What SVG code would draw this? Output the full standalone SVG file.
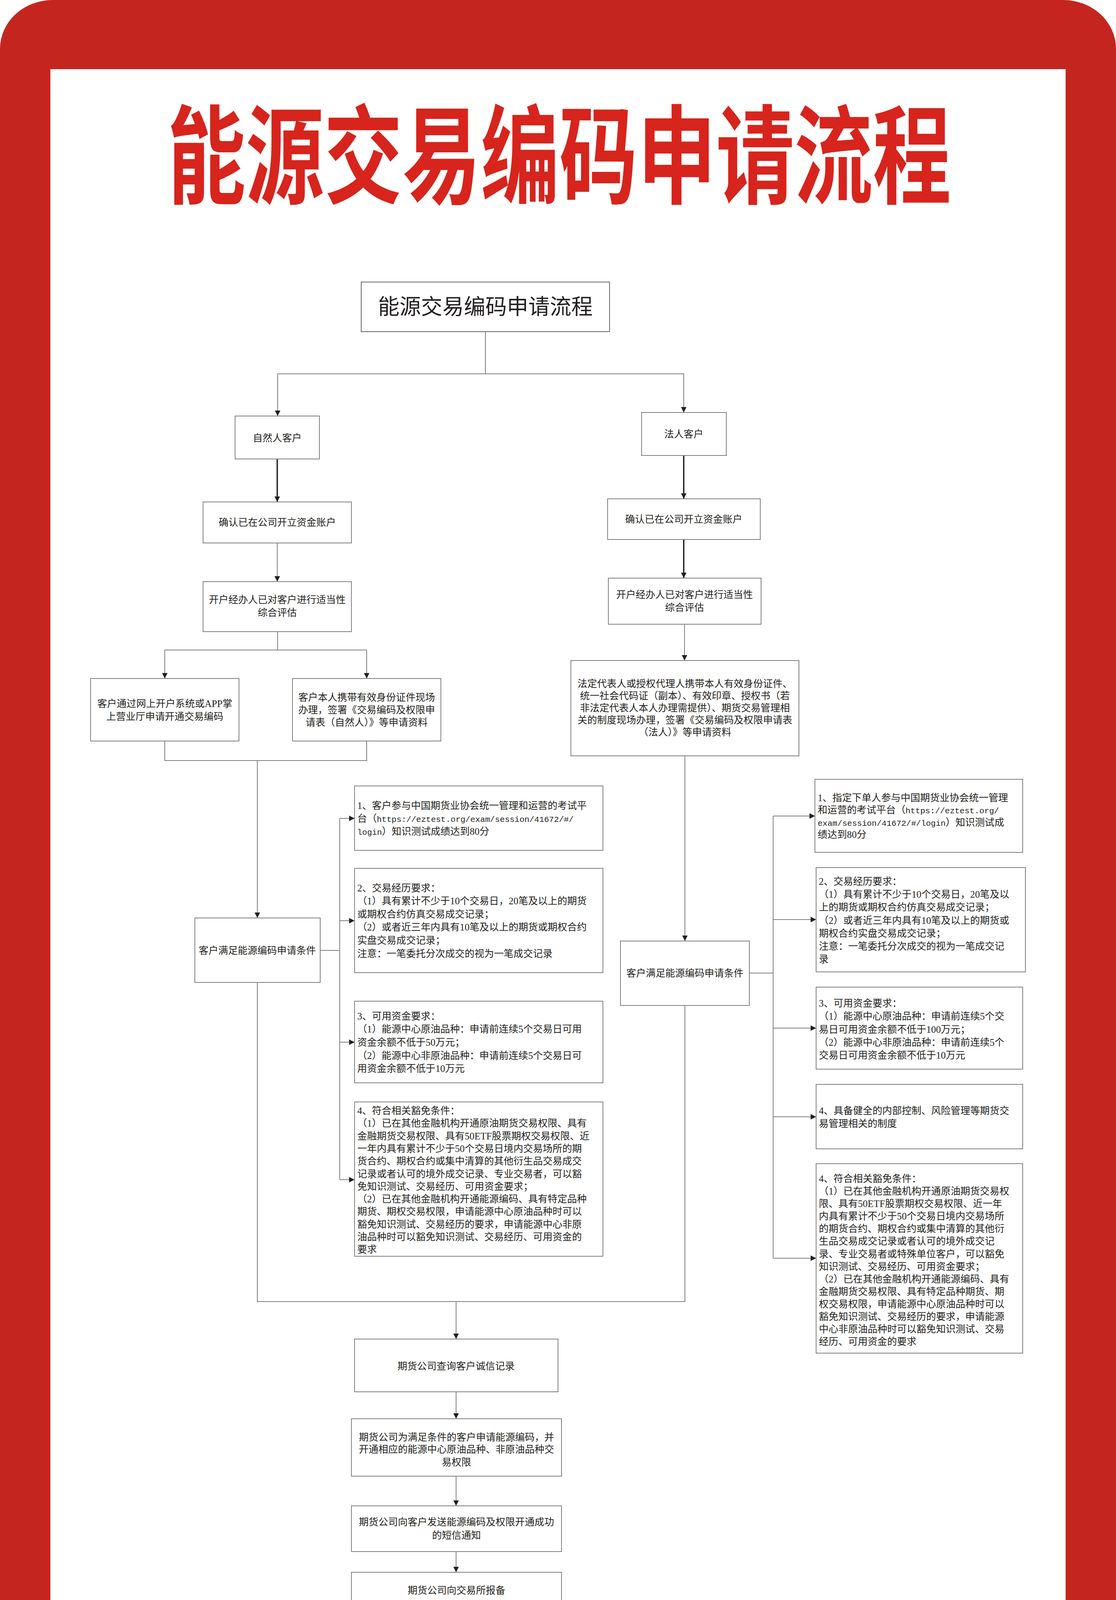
<svg xmlns="http://www.w3.org/2000/svg" width="2858" height="4370" viewBox="0 0 2858 4370">
<style>
.box{fill:#fff;stroke:#808080;stroke-width:2}
.t{font-family:"Liberation Serif","Noto Sans CJK SC",serif;font-size:25px;fill:#231f20}
.c{text-anchor:middle}
.u{font-family:"Liberation Mono",monospace;font-size:21px}
.ln{fill:none;stroke:#808080;stroke-width:2}
.lk{fill:none;stroke:#231f20;stroke-width:3.5}
</style>
<defs>
<marker id="ah" markerWidth="14" markerHeight="14" refX="14" refY="7" orient="auto" markerUnits="userSpaceOnUse"><path d="M0,0 L14,7 L0,14 z" fill="#231f20"/></marker>
</defs>
<rect x="0" y="0" width="2858" height="4370" fill="#fff"/>
<rect x="0" y="0" width="2858" height="4370" rx="135" ry="125" fill="#c4261f"/>
<rect x="129" y="177" width="2600" height="4014" fill="#fff"/>
<text transform="translate(1432,500) scale(0.73,1)" text-anchor="middle" style="font-family:'Noto Sans CJK SC',sans-serif;font-size:275px;font-weight:700;fill:#d7241c">能源交易编码申请流程</text>

<g id="connectors">
<path class="ln" d="M1243,849 V957 H711 V1065" marker-end="url(#ah)"/>
<path class="ln" d="M1243,957 H1751 V1056" marker-end="url(#ah)"/>
<path class="lk" d="M710,1175 V1285" marker-end="url(#ah)"/>
<path class="lk" d="M1751,1166 V1277" marker-end="url(#ah)"/>
<path class="lk" d="M1751,1381 V1480" marker-end="url(#ah)"/>
<path class="ln" d="M710,1390 V1489" marker-end="url(#ah)"/>
<path class="ln" d="M1753,1598 V1691" marker-end="url(#ah)"/>
<path class="ln" d="M711,1617 V1664 H422 V1737" marker-end="url(#ah)"/>
<path class="ln" d="M711,1664 H939 V1737" marker-end="url(#ah)"/>
<path class="ln" d="M422,1897 V1947 H939 V1897"/>
<path class="ln" d="M659,1947 V2350" marker-end="url(#ah)"/>
<path class="ln" d="M820,2433 H870"/>
<path class="ln" d="M870,2095 V3020"/>
<path class="ln" d="M870,2095 H908" marker-end="url(#ah)"/>
<path class="ln" d="M870,2357 H908" marker-end="url(#ah)"/>
<path class="ln" d="M870,2668 H908" marker-end="url(#ah)"/>
<path class="ln" d="M870,3020 H908" marker-end="url(#ah)"/>
<path class="ln" d="M1754,1935 V2409" marker-end="url(#ah)"/>
<path class="ln" d="M1919,2491 H1980"/>
<path class="ln" d="M1980,2089 V3221"/>
<path class="ln" d="M1980,2089 H2087" marker-end="url(#ah)"/>
<path class="ln" d="M1980,2354 H2090" marker-end="url(#ah)"/>
<path class="ln" d="M1980,2632 H2090" marker-end="url(#ah)"/>
<path class="ln" d="M1980,2859 H2090" marker-end="url(#ah)"/>
<path class="ln" d="M1980,3221 H2090" marker-end="url(#ah)"/>
<path class="ln" d="M659,2515 V3332 H1754 V2574"/>
<path class="ln" d="M1168,3332 V3428" marker-end="url(#ah)"/>
<path class="ln" d="M1168,3563 V3632" marker-end="url(#ah)"/>
<path class="ln" d="M1168,3779 V3855" marker-end="url(#ah)"/>
<path class="ln" d="M1168,3972 V4025" marker-end="url(#ah)"/>
</g>

<g id="title-box">
<rect class="box" x="925" y="722" width="636" height="127" style="stroke:#666"/>
<text class="t c" x="1243" y="804" style="font-size:55px">能源交易编码申请流程</text>
</g>
<g id="natural">
<rect class="box" x="602" y="1065" width="216" height="110"/>
<text class="t c" x="710" y="1130">自然人客户</text>
</g>
<g id="legal">
<rect class="box" x="1643" y="1056" width="217" height="110"/>
<text class="t c" x="1751" y="1120">法人客户</text>
</g>
<g id="confirm-left">
<rect class="box" x="520" y="1285" width="380" height="105"/>
<text class="t c" x="710" y="1346">确认已在公司开立资金账户</text>
</g>
<g id="confirm-right">
<rect class="box" x="1556" y="1277" width="391" height="104"/>
<text class="t c" x="1751" y="1338">确认已在公司开立资金账户</text>
</g>
<g id="assess-left">
<rect class="box" x="520" y="1489" width="380" height="128"/>
<text class="t c" x="710" y="1544">开户经办人已对客户进行适当性</text>
<text class="t c" x="710" y="1577">综合评估</text>
</g>
<g id="assess-right">
<rect class="box" x="1558" y="1480" width="391" height="118"/>
<text class="t c" x="1753" y="1531">开户经办人已对客户进行适当性</text>
<text class="t c" x="1753" y="1564">综合评估</text>
</g>
<g id="legal-docs">
<rect class="box" x="1462" y="1691" width="584" height="244"/>
<text class="t c" x="1754" y="1759">法定代表人或授权代理人携带本人有效身份证件、</text>
<text class="t c" x="1754" y="1790">统一社会代码证（副本）、有效印章、授权书（若</text>
<text class="t c" x="1754" y="1821">非法定代表人本人办理需提供）、期货交易管理相</text>
<text class="t c" x="1754" y="1852">关的制度现场办理，签署《交易编码及权限申请表</text>
<text class="t c" x="1754" y="1883">（法人）》等申请资料</text>
</g>
<g id="online">
<rect class="box" x="232" y="1737" width="380" height="160"/>
<text class="t c" x="422" y="1810">客户通过网上开户系统或APP掌</text>
<text class="t c" x="422" y="1843">上营业厅申请开通交易编码</text>
</g>
<g id="onsite">
<rect class="box" x="749" y="1737" width="380" height="160"/>
<text class="t c" x="939" y="1794">客户本人携带有效身份证件现场</text>
<text class="t c" x="939" y="1826">办理，签署《交易编码及权限申</text>
<text class="t c" x="939" y="1858">请表（自然人）》等申请资料</text>
</g>
<g id="meet-left">
<rect class="box" x="499" y="2350" width="321" height="165"/>
<text class="t c" x="659" y="2442">客户满足能源编码申请条件</text>
</g>
<g id="meet-right">
<rect class="box" x="1589" y="2409" width="330" height="165"/>
<text class="t c" x="1754" y="2500">客户满足能源编码申请条件</text>
</g>

<g id="left-c1">
<rect class="box" x="908" y="2012" width="636" height="165"/>
<text class="t" x="915" y="2071">1、客户参与中国期货业协会统一管理和运营的考试平</text>
<text class="t" x="915" y="2104">台（<tspan class="u">https://eztest.org/exam/session/41672/#/</tspan></text>
<text class="t" x="915" y="2137"><tspan class="u">login</tspan>）知识测试成绩达到80分</text>
</g>
<g id="left-c2">
<rect class="box" x="908" y="2223" width="636" height="267"/>
<text class="t" x="915" y="2282">2、交易经历要求：</text>
<text class="t" x="915" y="2315">（1）具有累计不少于10个交易日，20笔及以上的期货</text>
<text class="t" x="915" y="2349">或期权合约仿真交易成交记录；</text>
<text class="t" x="915" y="2382">（2）或者近三年内具有10笔及以上的期货或期权合约</text>
<text class="t" x="915" y="2416">实盘交易成交记录；</text>
<text class="t" x="915" y="2450">注意：一笔委托分次成交的视为一笔成交记录</text>
</g>
<g id="left-c3">
<rect class="box" x="908" y="2563" width="636" height="209"/>
<text class="t" x="915" y="2610">3、可用资金要求：</text>
<text class="t" x="915" y="2643">（1）能源中心原油品种：申请前连续5个交易日可用</text>
<text class="t" x="915" y="2677">资金余额不低于50万元；</text>
<text class="t" x="915" y="2711">（2）能源中心非原油品种：申请前连续5个交易日可</text>
<text class="t" x="915" y="2744">用资金余额不低于10万元</text>
</g>
<g id="left-c4">
<rect class="box" x="908" y="2821" width="636" height="395"/>
<text class="t" x="915" y="2852">4、符合相关豁免条件：</text>
<text class="t" x="915" y="2884">（1）已在其他金融机构开通原油期货交易权限、具有</text>
<text class="t" x="915" y="2917">金融期货交易权限、具有50ETF股票期权交易权限、近</text>
<text class="t" x="915" y="2949">一年内具有累计不少于50个交易日境内交易场所的期</text>
<text class="t" x="915" y="2981">货合约、期权合约或集中清算的其他衍生品交易成交</text>
<text class="t" x="915" y="3014">记录或者认可的境外成交记录、专业交易者，可以豁</text>
<text class="t" x="915" y="3046">免知识测试、交易经历、可用资金要求；</text>
<text class="t" x="915" y="3078">（2）已在其他金融机构开通能源编码、具有特定品种</text>
<text class="t" x="915" y="3110">期货、期权交易权限，申请能源中心原油品种时可以</text>
<text class="t" x="915" y="3143">豁免知识测试、交易经历的要求，申请能源中心非原</text>
<text class="t" x="915" y="3175">油品种时可以豁免知识测试、交易经历、可用资金的</text>
<text class="t" x="915" y="3207">要求</text>
</g>

<g id="right-c1">
<rect class="box" x="2087" y="1995" width="532" height="187"/>
<text class="t" x="2094" y="2051">1、指定下单人参与中国期货业协会统一管理</text>
<text class="t" x="2094" y="2082">和运营的考试平台（<tspan class="u">https://eztest.org/</tspan></text>
<text class="t" x="2094" y="2114"><tspan class="u">exam/session/41672/#/login</tspan>）知识测试成</text>
<text class="t" x="2094" y="2145">绩达到80分</text>
</g>
<g id="right-c2">
<rect class="box" x="2090" y="2221" width="536" height="267"/>
<text class="t" x="2097" y="2265">2、交易经历要求：</text>
<text class="t" x="2097" y="2298">（1）具有累计不少于10个交易日，20笔及以</text>
<text class="t" x="2097" y="2331">上的期货或期权合约仿真交易成交记录；</text>
<text class="t" x="2097" y="2365">（2）或者近三年内具有10笔及以上的期货或</text>
<text class="t" x="2097" y="2398">期权合约实盘交易成交记录；</text>
<text class="t" x="2097" y="2431">注意：一笔委托分次成交的视为一笔成交记</text>
<text class="t" x="2097" y="2464">录</text>
</g>
<g id="right-c3">
<rect class="box" x="2090" y="2527" width="529" height="210"/>
<text class="t" x="2097" y="2577">3、可用资金要求：</text>
<text class="t" x="2097" y="2610">（1）能源中心原油品种：申请前连续5个交</text>
<text class="t" x="2097" y="2644">易日可用资金余额不低于100万元；</text>
<text class="t" x="2097" y="2677">（2）能源中心非原油品种：申请前连续5个</text>
<text class="t" x="2097" y="2710">交易日可用资金余额不低于10万元</text>
</g>
<g id="right-c4">
<rect class="box" x="2090" y="2776" width="529" height="165"/>
<text class="t" x="2097" y="2852">4、具备健全的内部控制、风险管理等期货交</text>
<text class="t" x="2097" y="2885">易管理相关的制度</text>
</g>
<g id="right-c5">
<rect class="box" x="2090" y="2979" width="529" height="485"/>
<text class="t" x="2097" y="3026">4、符合相关豁免条件：</text>
<text class="t" x="2097" y="3058">（1）已在其他金融机构开通原油期货交易权</text>
<text class="t" x="2097" y="3090">限、具有50ETF股票期权交易权限、近一年</text>
<text class="t" x="2097" y="3122">内具有累计不少于50个交易日境内交易场所</text>
<text class="t" x="2097" y="3154">的期货合约、期权合约或集中清算的其他衍</text>
<text class="t" x="2097" y="3186">生品交易成交记录或者认可的境外成交记</text>
<text class="t" x="2097" y="3219">录、专业交易者或特殊单位客户，可以豁免</text>
<text class="t" x="2097" y="3251">知识测试、交易经历、可用资金要求；</text>
<text class="t" x="2097" y="3283">（2）已在其他金融机构开通能源编码、具有</text>
<text class="t" x="2097" y="3315">金融期货交易权限、具有特定品种期货、期</text>
<text class="t" x="2097" y="3347">权交易权限，申请能源中心原油品种时可以</text>
<text class="t" x="2097" y="3379">豁免知识测试、交易经历的要求，申请能源</text>
<text class="t" x="2097" y="3411">中心非原油品种时可以豁免知识测试、交易</text>
<text class="t" x="2097" y="3443">经历、可用资金的要求</text>
</g>

<g id="credit">
<rect class="box" x="908" y="3428" width="521" height="135"/>
<text class="t c" x="1168" y="3506">期货公司查询客户诚信记录</text>
</g>
<g id="apply">
<rect class="box" x="900" y="3632" width="538" height="147"/>
<text class="t c" x="1169" y="3688">期货公司为满足条件的客户申请能源编码，并</text>
<text class="t c" x="1169" y="3719">开通相应的能源中心原油品种、非原油品种交</text>
<text class="t c" x="1169" y="3752">易权限</text>
</g>
<g id="notify">
<rect class="box" x="900" y="3855" width="538" height="117"/>
<text class="t c" x="1169" y="3905">期货公司向客户发送能源编码及权限开通成功</text>
<text class="t c" x="1169" y="3939">的短信通知</text>
</g>
<g id="report">
<rect class="box" x="900" y="4025" width="538" height="95"/>
<text class="t c" x="1169" y="4080">期货公司向交易所报备</text>
</g>
</svg>
